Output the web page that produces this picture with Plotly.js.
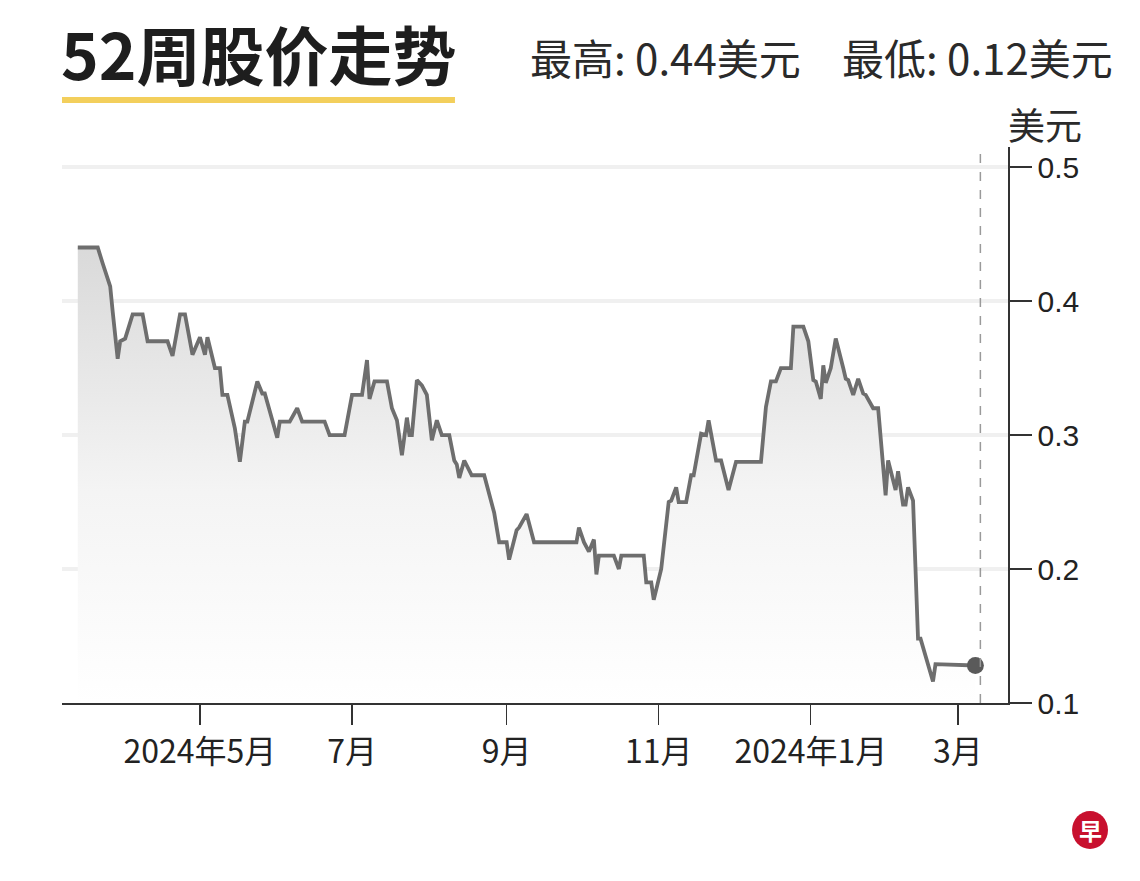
<!DOCTYPE html>
<html>
<head>
<meta charset="utf-8">
<script src="https://cdn.plot.ly/plotly-3.0.1.min.js"></script>
<style>
  html, body { margin: 0; padding: 0; background: #ffffff; }
  #chart { width: 1140px; height: 881px; }
</style>
</head>
<body>
<div id="chart"></div>
<script>
// ---- data ----
const dates = [
  '2024-03-13','2024-03-21','2024-03-23','2024-03-26','2024-03-27','2024-03-29','2024-03-30',
  '2024-04-01','2024-04-04','2024-04-08','2024-04-10','2024-04-18','2024-04-20','2024-04-23',
  '2024-04-25','2024-04-28','2024-05-01','2024-05-03','2024-05-04','2024-05-07','2024-05-09',
  '2024-05-10','2024-05-12','2024-05-15','2024-05-17','2024-05-19','2024-05-20','2024-05-24',
  '2024-05-26','2024-05-27','2024-06-01','2024-06-02','2024-06-06','2024-06-09','2024-06-11',
  '2024-06-20','2024-06-22','2024-06-28','2024-07-01','2024-07-05','2024-07-07','2024-07-08',
  '2024-07-10','2024-07-15','2024-07-17','2024-07-19','2024-07-21','2024-07-23','2024-07-24',
  '2024-07-25','2024-07-27','2024-07-29','2024-07-31','2024-08-02','2024-08-04','2024-08-06',
  '2024-08-09','2024-08-11','2024-08-12','2024-08-13','2024-08-15','2024-08-18','2024-08-23',
  '2024-08-25','2024-08-27','2024-08-29','2024-09-01','2024-09-02','2024-09-05','2024-09-06',
  '2024-09-09','2024-09-12','2024-09-29','2024-09-30','2024-10-02','2024-10-04','2024-10-06',
  '2024-10-07','2024-10-08','2024-10-14','2024-10-16','2024-10-17','2024-10-26','2024-10-27',
  '2024-10-29','2024-10-30','2024-11-02','2024-11-05','2024-11-06','2024-11-08','2024-11-09',
  '2024-11-12','2024-11-14','2024-11-15','2024-11-16','2024-11-18','2024-11-20','2024-11-21',
  '2024-11-24','2024-11-26','2024-11-29','2024-12-02','2024-12-12','2024-12-14','2024-12-16',
  '2024-12-18','2024-12-20','2024-12-24','2024-12-25','2024-12-29','2024-12-31','2025-01-02',
  '2025-01-03','2025-01-05','2025-01-06','2025-01-07','2025-01-09','2025-01-11','2025-01-14',
  '2025-01-15','2025-01-16','2025-01-18','2025-01-20','2025-01-22','2025-01-23','2025-01-26',
  '2025-01-28','2025-01-31','2025-02-01','2025-02-03','2025-02-04','2025-02-05','2025-02-07',
  '2025-02-08','2025-02-09','2025-02-11','2025-02-13','2025-02-14','2025-02-19','2025-02-20',
  '2025-03-08'
];
const prices = [
  0.44,0.44,0.428,0.411,0.392,0.357,0.37,
  0.372,0.39,0.39,0.37,0.37,0.359,0.39,
  0.39,0.36,0.373,0.36,0.373,0.35,0.35,
  0.33,0.33,0.305,0.28,0.31,0.31,0.34,
  0.331,0.331,0.298,0.31,0.31,0.32,0.31,
  0.31,0.30,0.30,0.33,0.33,0.356,0.327,
  0.34,0.34,0.32,0.311,0.285,0.313,0.30,
  0.30,0.341,0.337,0.33,0.296,0.311,0.30,
  0.30,0.281,0.278,0.268,0.281,0.27,0.27,
  0.256,0.242,0.22,0.22,0.207,0.229,0.231,
  0.241,0.22,0.22,0.231,0.22,0.213,0.222,
  0.196,0.21,0.21,0.20,0.21,0.21,0.19,
  0.19,0.177,0.20,0.25,0.251,0.261,0.25,
  0.25,0.27,0.27,0.281,0.301,0.30,0.311,
  0.281,0.281,0.259,0.28,0.28,0.321,0.34,
  0.34,0.35,0.35,0.381,0.381,0.37,0.341,
  0.34,0.327,0.352,0.339,0.35,0.372,0.35,
  0.342,0.341,0.33,0.342,0.331,0.33,0.32,
  0.32,0.255,0.281,0.266,0.259,0.273,0.248,
  0.248,0.261,0.251,0.148,0.148,0.116,0.129,
  0.128
];
const tickDates = ['2024-05-01','2024-07-01','2024-09-01','2024-11-01','2025-01-01','2025-03-01'];
const tickLabels = ['2024年5月','7月','9月','11月','2024年1月','3月'];
const yTicks = [0.1, 0.2, 0.3, 0.4, 0.5];
const yTickLabels = ['0.1','0.2','0.3','0.4','0.5'];
const titleText = '52周股价走势';
const statsHigh = '最高: 0.44美元';
const statsLow = '最低: 0.12美元';
const unitText = '美元';
const cutoffDate = '2025-03-10';

const CJK = '"Noto Sans CJK SC", "Noto Sans", sans-serif';
const NARROW = '"Liberation Sans Narrow", "Noto Sans CJK SC", sans-serif';

const lastIdx = dates.length - 1;

const traces = [
  {
    type: 'scatter', mode: 'lines',
    x: dates, y: prices,
    line: { color: '#6e6e6e', width: 3.8 },
    fill: 'tozeroy',
    fillgradient: { type: 'vertical', start: 0.1, stop: 0.45,
      colorscale: [[0, 'rgba(255,255,255,1)'], [0.45, 'rgba(244,244,244,1)'], [1, 'rgba(216,216,216,1)']] },
    hoverinfo: 'skip'
  },
  {
    type: 'scatter', mode: 'markers',
    x: [dates[lastIdx]], y: [prices[lastIdx]],
    marker: { color: '#5a5a5a', size: 17 },
    hoverinfo: 'skip'
  }
];

const layout = {
  width: 1140, height: 881,
  margin: { l: 62, r: 132, t: 147, b: 178 },
  paper_bgcolor: '#ffffff', plot_bgcolor: '#ffffff',
  showlegend: false,
  xaxis: {
    type: 'date',
    range: ['2024-03-06 16:00', '2025-03-21 02:00'],
    tickvals: tickDates, ticktext: tickLabels,
    ticks: 'outside', ticklen: 20, tickwidth: 1.2, tickcolor: '#333',
    showline: true, linecolor: '#333', linewidth: 1.5,
    showgrid: false, zeroline: false,
    tickfont: { family: NARROW, size: 32, color: '#222' },
    fixedrange: true
  },
  yaxis: {
    side: 'right',
    range: [0.1, 0.515],
    tickvals: yTicks, ticktext: yTickLabels,
    ticks: 'outside', ticklen: 22, tickwidth: 1.5, tickcolor: '#333',
    showline: true, linecolor: '#333', linewidth: 1.5,
    showgrid: true, gridcolor: '#f0f0f0', gridwidth: 4,
    zeroline: false,
    tickfont: { family: '"Liberation Sans", Arial, sans-serif', size: 30, color: '#222' },
    fixedrange: true
  },
  shapes: [
    { type: 'line', xref: 'x', yref: 'paper', x0: cutoffDate, x1: cutoffDate, y0: 0, y1: 1,
      line: { color: '#9a9a9a', width: 1.5, dash: 'dash' } },
    { type: 'rect', xref: 'paper', yref: 'paper', x0: 0, x1: 0.4154, y0: 1.079, y1: 1.090,
      line: { width: 0 }, fillcolor: '#f3cf5c' },
    { type: 'circle', xref: 'paper', yref: 'paper', x0: 1.0677, x1: 1.1057, y0: -0.2626, y1: -0.1942,
      line: { width: 0 }, fillcolor: '#c8102e' }
  ],
  annotations: [
    { xref: 'paper', yref: 'paper', x: -0.003, y: 1.171, xanchor: 'left', yanchor: 'middle',
      text: '<b>' + titleText + '</b>', showarrow: false,
      font: { family: CJK, size: 64, color: '#1e1e1e' } },
    { xref: 'paper', yref: 'paper', x: 0.493, y: 1.162, xanchor: 'left', yanchor: 'middle',
      text: statsHigh, showarrow: false,
      font: { family: NARROW, size: 42, color: '#2a2a2a' } },
    { xref: 'paper', yref: 'paper', x: 0.8225, y: 1.162, xanchor: 'left', yanchor: 'middle',
      text: statsLow, showarrow: false,
      font: { family: NARROW, size: 42, color: '#2a2a2a' } },
    { xref: 'paper', yref: 'paper', x: 1.039, y: 1.042, xanchor: 'center', yanchor: 'middle',
      text: unitText, showarrow: false,
      font: { family: CJK, size: 37, color: '#2a2a2a' } },
    { xref: 'paper', yref: 'paper', x: 1.0867, y: -0.2284, xanchor: 'center', yanchor: 'middle',
      text: '<b>早</b>', showarrow: false,
      font: { family: CJK, size: 23, color: '#ffffff' } }
  ]
};

Plotly.newPlot('chart', traces, layout, { displayModeBar: false, staticPlot: true });
</script>
</body>
</html>
